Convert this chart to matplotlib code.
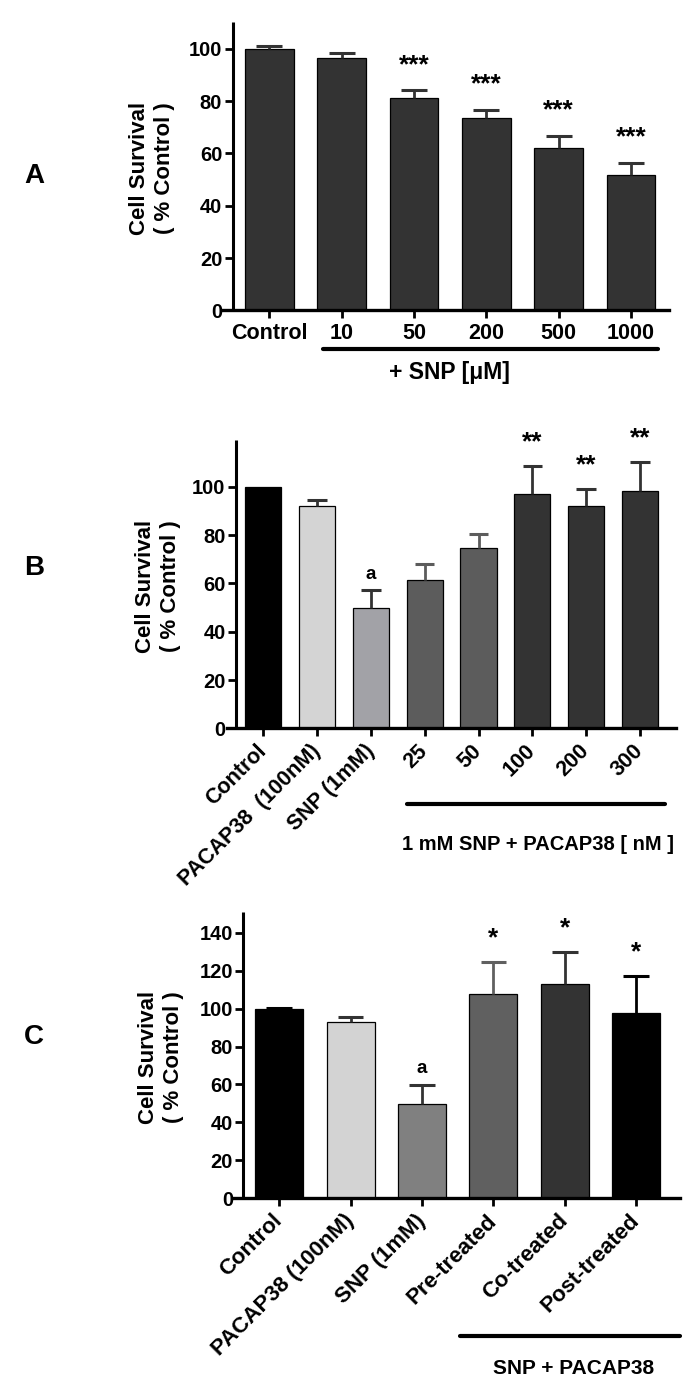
import matplotlib
matplotlib.use("Agg")
import matplotlib.pyplot as plt
import matplotlib.transforms as mtransforms
import numpy as np

plt.rcParams['font.family'] = ['Liberation Sans', 'DejaVu Sans']
plt.rcParams['font.weight'] = 'bold'

# ---------------- data ----------------
# Panel A
a_labels = ["Control", "10", "50", "200", "500", "1000"]
a_means = [100.0, 96.6, 81.1, 73.4, 62.0, 51.8]
a_errs = [1.2, 1.7, 3.2, 3.3, 4.8, 4.7]
a_marks = ["", "", "***", "***", "***", "***"]
a_colors = ["#333333"] * 6

# Panel B
b_labels = ["Control", "PACAP38  (100nM)", "SNP (1mM)", "25", "50", "100", "200", "300"]
b_means = [100.0, 92.1, 49.9, 61.3, 74.5, 97.0, 92.0, 98.1]
b_errs = [0.0, 2.3, 7.4, 6.7, 6.1, 11.6, 7.3, 12.1]
b_marks = ["", "", "a", "", "", "**", "**", "**"]
b_colors = ["#000000", "#d4d4d4", "#a2a2a7", "#5c5c5c", "#5c5c5c", "#333333", "#333333", "#333333"]

# Panel C
c_labels = ["Control", "PACAP38 (100nM)", "SNP (1mM)", "Pre-treated", "Co-treated", "Post-treated"]
c_means = [100.0, 92.7, 49.5, 107.5, 112.8, 97.5]
c_errs = [0.3, 3.0, 10.4, 17.2, 17.2, 19.5]
c_marks = ["", "", "a", "*", "*", "*"]
c_colors = ["#000000", "#d3d3d3", "#808080", "#606060", "#333333", "#000000"]

W, H = 696, 1396
fig = plt.figure(figsize=(W / 100, H / 100), dpi=100)
LIGHT = ("#d4d4d4", "#a2a2a7", "#d3d3d3", "#808080")


def make_axes(L, R, B0, T, x0, step, spine_px, ymax):
    ax = fig.add_axes([L / W, 1 - B0 / H, (R - L) / W, (B0 - T) / H])
    ax.set_xlim((L - x0) / step, (R - x0) / step)
    ax.set_ylim(0, ymax)
    for s in ("top", "right"):
        ax.spines[s].set_visible(False)
    ax.spines["left"].set_position(("data", (spine_px - x0) / step))
    ax.spines["left"].set_linewidth(2.2)
    ax.spines["bottom"].set_linewidth(2.4)
    ax.spines["left"].set_capstyle("butt")
    ax.tick_params(axis="both", width=2.0, length=6, color="black")
    ax.tick_params(axis="y", pad=1.5, labelsize=14.5)
    return ax


def draw(ax, means, errs, colors, marks, width, star_off, a_off):
    x = np.arange(len(means))
    ax.bar(x, means, width=width, color=colors, edgecolor="black", linewidth=0.9, zorder=2)
    for i, (m, e) in enumerate(zip(means, errs)):
        ec = "#333333" if colors[i] in LIGHT else colors[i]
        if e > 0:
            ax.vlines(i, m, m + e, color=ec, lw=2.0, zorder=3)
            ax.hlines(m + e, i - 0.18, i + 0.18, color=ec, lw=2.2, zorder=3)
    for i, mk in enumerate(marks):
        if mk:
            off = a_off if mk == "a" else star_off
            fs = 13.5 if mk == "a" else 19
            ax.annotate(mk, xy=(i, means[i] + errs[i]), xytext=(0, off),
                        textcoords="offset points", ha="center", va="center",
                        fontsize=fs, fontweight="bold", annotation_clip=False)
    return x


def ylabel(xc, yc):
    fig.text(xc / W, 1 - yc / H, "Cell Survival\n( % Control )", rotation=90,
             ha="center", va="center", fontsize=16, fontweight="bold",
             linespacing=1.3, multialignment="center")


def underline(ax, x1, x2, ypx, text, tx, typx, fs=14.5):
    tr = mtransforms.blended_transform_factory(ax.transData, fig.transFigure)
    ax.plot([x1, x2], [1 - ypx / H, 1 - ypx / H], transform=tr, color="black",
            lw=3.0, solid_capstyle="round", clip_on=False)
    ax.text(tx, 1 - typx / H, text, transform=tr, ha="center", va="center",
            fontsize=fs, fontweight="bold")


# ---------------- Panel A ----------------
axA = make_axes(223, 669, 310.4, 21.9, 269.4, 72.3, 232.6, 110.3)
xA = draw(axA, a_means, a_errs, a_colors, a_marks, 0.67, 18, 12)
axA.set_yticks(np.arange(0, 101, 20))
axA.set_xticks(xA)
axA.set_xticklabels(a_labels, fontsize=15.5)
axA.tick_params(axis="x", pad=3)
underline(axA, 0.74, 5.37, 349.3, "+ SNP [\u03bcM]", 2.49, 372, fs=16.5)
ylabel(152, 168.5)
fig.text(34 / W, 1 - 176 / H, "A", fontsize=20, fontweight="bold", ha="center", va="center")

# ---------------- Panel B ----------------
axB = make_axes(226.7, 676, 728.3, 440, 263.3, 53.8, 236, 119.4)
xB = draw(axB, b_means, b_errs, b_colors, b_marks, 0.67, 17, 11)
axB.set_yticks(np.arange(0, 101, 20))
axB.set_xticks(xB)
axB.set_xticklabels(b_labels, fontsize=15.5, rotation=45, ha="right",
                    rotation_mode="anchor", va="center")
axB.tick_params(axis="x", pad=8)
underline(axB, 2.67, 7.47, 804, "1 mM SNP + PACAP38 [ nM ]", 5.1, 845)
ylabel(158, 586)
fig.text(34 / W, 1 - 568 / H, "B", fontsize=20, fontweight="bold", ha="center", va="center")

# ---------------- Panel C ----------------
axC = make_axes(233.3, 680, 1198.3, 911.9, 279.2, 71.4, 243.3, 151)
xC = draw(axC, c_means, c_errs, c_colors, c_marks, 0.67, 17, 12)
axC.set_yticks(np.arange(0, 141, 20))
axC.set_xticks(xC)
axC.set_xticklabels(c_labels, fontsize=16, rotation=45, ha="right",
                    rotation_mode="anchor", va="center")
axC.tick_params(axis="x", pad=8)
underline(axC, 2.53, 5.62, 1336, "SNP + PACAP38", 4.12, 1368, fs=15)
ylabel(161, 1057)
fig.text(34 / W, 1 - 1037 / H, "C", fontsize=20, fontweight="bold", ha="center", va="center")

fig.savefig("out.png", dpi=100)
